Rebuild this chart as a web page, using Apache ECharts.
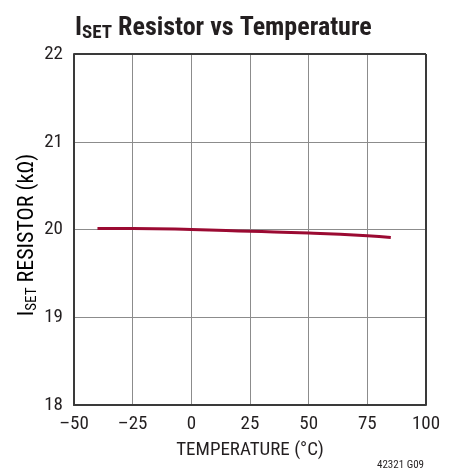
<!DOCTYPE html>
<html><head><meta charset="utf-8">
<script src="https://cdn.jsdelivr.net/npm/echarts@6/dist/echarts.min.js"></script>
<style>html,body{margin:0;padding:0;background:#fff}#c{width:455px;height:474px}</style>
</head><body><div id="c"></div>
<script>
const temperatures = [-40, -25, 0, 25, 50, 75, 85];
const resistance = [20.01, 20.01, 20.0, 19.98, 19.96, 19.93, 19.91];
const xTicks = [-50, -25, 0, 25, 50, 75, 100];
const yTicks = [18, 19, 20, 21, 22];
const FONT = "'Roboto Condensed','Liberation Sans Narrow','DejaVu Sans Condensed',sans-serif";
const chart = echarts.init(document.getElementById('c'));
chart.setOption({
  animation: false,
  backgroundColor: '#fff',
  title: {
    text: '{a|I}{s|SET}{a| Resistor vs Temperature}',
    left: 70, top: 8,
    textStyle: {
      rich: {
        a: {fontFamily: FONT, fontWeight: 'bold', fontSize: 26, color: '#231f20'},
        s: {fontFamily: FONT, fontWeight: 'bold', fontSize: 19, color: '#231f20', padding: [11, 0, 0, 0]}
      }
    }
  },
  graphic: [
    {type: 'text', right: 31, top: 460, style: {text: '42321 G09', fontFamily: FONT, fontSize: 11, fill: '#231f20'}},
    {type: 'text', x: 27, y: 235, rotation: Math.PI / 2,
      style: {
        text: '{a|I}{s|SET}{a| RESISTOR (kΩ)}', align: 'center', verticalAlign: 'middle',
        rich: {
          a: {fontFamily: FONT, fontSize: 22, color: '#231f20'},
          s: {fontFamily: FONT, fontSize: 15, color: '#231f20', padding: [10, 0, 0, 0]}
        }
      }}
  ],
  grid: {left: 74, right: 29, top: 54, bottom: 69, containLabel: false},
  xAxis: {
    type: 'value', min: -50, max: 100, interval: 25,
    name: 'TEMPERATURE (°C)', nameLocation: 'middle', nameGap: 36,
    nameTextStyle: {fontFamily: FONT, fontSize: 19, color: '#231f20'},
    axisLine: {show: true, onZero: false, lineStyle: {color: '#3a3a3a', width: 2}},
    axisTick: {show: false},
    axisLabel: {fontFamily: FONT, fontSize: 19, color: '#231f20', margin: 10,
      formatter: v => xTicks.includes(v) ? String(v).replace('-', '\u2013') : ''},
    splitLine: {show: true, lineStyle: {color: '#8c8c8c', width: 1}}
  },
  yAxis: {
    type: 'value', min: 18, max: 22, interval: 1,
    axisLine: {show: true, onZero: false, lineStyle: {color: '#3a3a3a', width: 2}},
    axisTick: {show: false},
    axisLabel: {fontFamily: FONT, fontSize: 19, color: '#231f20', margin: 11,
      formatter: v => yTicks.includes(v) ? String(v) : ''},
    splitLine: {show: true, lineStyle: {color: '#8c8c8c', width: 1}}
  },
  series: [
    {type: 'line', data: temperatures.map((t, i) => [t, resistance[i]]), smooth: true,
      showSymbol: false, lineStyle: {color: '#9b0a32', width: 3}, z: 5},
    {type: 'line', data: [], markLine: {silent: true, symbol: 'none', label: {show: false},
      lineStyle: {color: '#3a3a3a', width: 2, type: 'solid'},
      data: [{xAxis: 100}, {yAxis: 22}]}}
  ]
});
</script></body></html>
